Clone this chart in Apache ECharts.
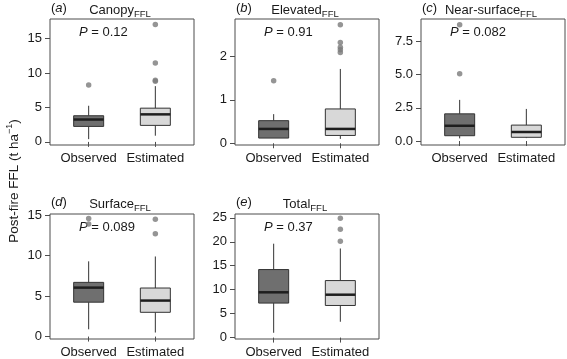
<!DOCTYPE html>
<html>
<head>
<meta charset="utf-8">
<script src="https://cdn.jsdelivr.net/npm/echarts@6/dist/echarts.min.js"></script>
<style>
  html, body { margin: 0; padding: 0; background: #fff; }
  #chart { width: 567px; height: 359px; }
</style>
</head>
<body>
<div id="chart"></div>
<script>
const groups = ['Observed', 'Estimated'];
const panelLetters = ['a', 'b', 'c', 'd', 'e'];
const panelNames = ['Canopy', 'Elevated', 'Near-surface', 'Surface', 'Total'];
const pValues = ['0.12', '0.91', '0.082', '0.089', '0.37'];

// [lower whisker, Q1, median, Q3, upper whisker] -> Observed, Estimated
const canopyBoxes = [[0.4, 2.25, 3.25, 3.8, 5.25], [0.9, 2.4, 4.0, 4.9, 8.1]];
const elevatedBoxes = [[0.12, 0.12, 0.33, 0.52, 0.67], [0.1, 0.18, 0.33, 0.79, 1.71]];
const nearSurfaceBoxes = [[0.2, 0.4, 1.15, 2.05, 3.1], [0.22, 0.28, 0.68, 1.2, 2.42]];
const surfaceBoxes = [[0.9, 4.25, 6.05, 6.7, 9.3], [0.5, 3.0, 4.45, 6.0, 9.9]];
const totalBoxes = [[1.0, 7.2, 9.45, 14.2, 19.6], [3.3, 6.7, 8.95, 11.9, 18.6]];

// outliers -> Observed, Estimated
const canopyOutliers = [[8.25], [17.05, 11.45, 8.95, 8.8]];
const elevatedOutliers = [[1.44], [2.73, 2.32, 2.21, 2.15, 2.09]];
const nearSurfaceOutliers = [[8.76, 5.08], []];
const surfaceOutliers = [[14.6, 13.9], [14.5, 12.7]];
const totalOutliers = [[], [24.9, 22.6, 20.1]];

const yTicks = [[0, 5, 10, 15], [0, 1, 2], [0, 2.5, 5, 7.5], [0, 5, 10, 15], [0, 5, 10, 15, 20, 25]];
const yRanges = [[-0.45, 17.85], [-0.04, 2.86], [-0.3, 9.2], [-0.3, 15.15], [-0.3, 25.8]];

const allBoxes = [canopyBoxes, elevatedBoxes, nearSurfaceBoxes, surfaceBoxes, totalBoxes];
const allOutliers = [canopyOutliers, elevatedOutliers, nearSurfaceOutliers, surfaceOutliers, totalOutliers];

// layout
const gridLefts = [50, 235, 421, 50, 235];
const gridTops = [19, 19, 19, 214, 214];
const gridW = 144;
const gridH = 126;

const FONT = '"Liberation Sans", Arial, Helvetica, sans-serif';
const boxColors = ['#6f6f6f', '#d8d8d8'];
const frameColor = '#4d4d4d';
const textColor = '#1a1a1a';

function renderBox(params, api) {
  const x = api.value(0);
  const p = [1, 2, 3, 4, 5].map(d => api.coord([x, api.value(d)]));
  const cx = p[0][0];
  const half = 15;
  return {
    type: 'group',
    children: [
      { type: 'line', shape: { x1: cx, y1: p[0][1], x2: cx, y2: p[1][1] }, style: { stroke: '#333', lineWidth: 1 } },
      { type: 'line', shape: { x1: cx, y1: p[3][1], x2: cx, y2: p[4][1] }, style: { stroke: '#333', lineWidth: 1 } },
      {
        type: 'rect',
        shape: { x: cx - half, y: p[3][1], width: half * 2, height: p[1][1] - p[3][1] },
        style: { fill: boxColors[params.dataIndex], stroke: '#333', lineWidth: 1 }
      },
      { type: 'line', shape: { x1: cx - half, y1: p[2][1], x2: cx + half, y2: p[2][1] }, style: { stroke: '#1e1e1e', lineWidth: 2.5 } }
    ]
  };
}

const grid = [], xAxis = [], yAxis = [], series = [], graphic = [];

allBoxes.forEach((boxes, i) => {
  grid.push({
    left: gridLefts[i], top: gridTops[i], width: gridW, height: gridH,
    show: true, borderColor: frameColor, borderWidth: 1, backgroundColor: 'transparent'
  });
  xAxis.push({
    gridIndex: i, type: 'value', min: 0.42, max: 2.58,
    axisLine: { show: false }, splitLine: { show: false },
    axisTick: { show: true, customValues: [1, 2], length: 5, lineStyle: { color: frameColor } },
    axisLabel: {
      customValues: [1, 2], formatter: v => groups[Math.round(v) - 1],
      color: textColor, fontSize: 13, fontFamily: FONT, margin: 7
    }
  });
  yAxis.push({
    gridIndex: i, type: 'value', min: yRanges[i][0], max: yRanges[i][1],
    axisLine: { show: false }, splitLine: { show: false },
    axisTick: { show: true, customValues: yTicks[i], length: 5, lineStyle: { color: frameColor } },
    axisLabel: {
      customValues: yTicks[i], formatter: v => (i === 2 ? v.toFixed(1) : String(v)),
      color: textColor, fontSize: 13, fontFamily: FONT, margin: 8
    }
  });
  series.push({
    type: 'custom', xAxisIndex: i, yAxisIndex: i, silent: true,
    data: boxes.map((b, j) => [j + 1].concat(b)),
    encode: { x: 0, y: [1, 2, 3, 4, 5] },
    renderItem: renderBox
  });
  const pts = [];
  allOutliers[i].forEach((vals, j) => vals.forEach(v => pts.push([j + 1, v])));
  series.push({
    type: 'scatter', xAxisIndex: i, yAxisIndex: i, silent: true,
    data: pts, symbolSize: 5.5, itemStyle: { color: '#7a7a7a' }
  });

  const row = gridTops[i] === 19 ? 8 : 202;
  graphic.push({
    type: 'text', x: gridLefts[i] + 1, y: row,
    style: {
      text: '({i|' + panelLetters[i] + '})', font: '13px ' + FONT, fill: textColor,
      textVerticalAlign: 'middle', rich: { i: { fontStyle: 'italic', fontSize: 13, fontFamily: FONT } }
    }
  });
  graphic.push({
    type: 'text', x: gridLefts[i] + gridW / 2 - 2, y: row + 2,
    style: {
      text: '{m|' + panelNames[i] + '}{s|FFL}', fill: textColor, textAlign: 'center', textVerticalAlign: 'middle',
      rich: {
        m: { fontSize: 13, fontFamily: FONT, lineHeight: 18, verticalAlign: 'middle' },
        s: { fontSize: 9.5, fontFamily: FONT, lineHeight: 9, verticalAlign: 'bottom' }
      }
    }
  });
  graphic.push({
    type: 'text', x: gridLefts[i] + 29, y: gridTops[i] + 13,
    style: {
      text: '{i|P} = ' + pValues[i], font: '13px ' + FONT, fill: textColor, textVerticalAlign: 'middle',
      rich: { i: { fontStyle: 'italic', fontSize: 13, fontFamily: FONT } }
    }
  });
});

graphic.push({
  type: 'text', x: 14, y: 181, rotation: Math.PI / 2,
  style: {
    text: 'Post-fire FFL (t ha{sup|\u22121})', font: '13.5px ' + FONT, fill: textColor,
    textAlign: 'center', textVerticalAlign: 'middle', lineHeight: 18,
    rich: { sup: { fontSize: 9, fontFamily: FONT, lineHeight: 9, verticalAlign: 'top' } }
  }
});

const chart = echarts.init(document.getElementById('chart'), null, { renderer: 'canvas' });
chart.setOption({
  animation: false,
  backgroundColor: '#fff',
  grid, xAxis, yAxis, series, graphic
});
window.addEventListener('resize', () => chart.resize());
</script>
</body>
</html>
